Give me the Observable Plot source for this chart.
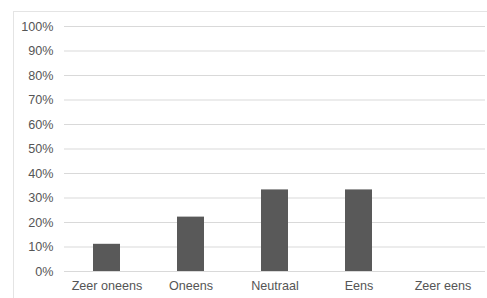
<!DOCTYPE html>
<html><head><meta charset="utf-8">
<script src="https://cdn.jsdelivr.net/npm/d3@7"></script>
<script src="https://cdn.jsdelivr.net/npm/@observablehq/plot@0.6"></script>
<style>
html,body{margin:0;padding:0;background:#fff;}
#wrap{position:relative;width:487px;height:298px;overflow:hidden;}
#border{position:absolute;left:13px;top:11px;width:490px;height:300px;border:1px solid #e4e4e4;box-sizing:border-box;}
#chart{position:absolute;left:0;top:0;}
</style></head>
<body>
<div id="wrap"><div id="border"></div><div id="chart"></div></div>
<script>
const categories = ["Zeer oneens", "Oneens", "Neutraal", "Eens", "Zeer eens"];
const values = [0.111, 0.222, 0.333, 0.333, 0];
const yTicks = [0, 0.1, 0.2, 0.3, 0.4, 0.5, 0.6, 0.7, 0.8, 0.9, 1.0];
const yTickLabels = ["0%", "10%", "20%", "30%", "40%", "50%", "60%", "70%", "80%", "90%", "100%"];

const data = categories.map((c, i) => ({category: c, value: values[i]}));

const chart = Plot.plot({
  width: 487,
  height: 298,
  marginLeft: 64,
  marginRight: 2,
  marginTop: 26,
  marginBottom: 27,
  style: {fontFamily: "'Liberation Sans', Arial, sans-serif", fontSize: "12.6px", color: "#555555", background: "transparent"},
  x: {domain: categories, paddingInner: 0.68, paddingOuter: 0.34, label: null, tickSize: 0, tickPadding: 10},
  y: {domain: [0, 1], ticks: yTicks, tickFormat: (d) => yTickLabels[yTicks.findIndex(t => Math.abs(t - d) < 1e-9)], label: null, tickSize: 0, tickPadding: 11},
  marks: [
    Plot.ruleY(yTicks, {stroke: "#d9d9d9", strokeWidth: 1}),
    Plot.barY(data, {x: "category", y: "value", fill: "#595959"})
  ]
});
document.getElementById("chart").appendChild(chart);
</script>
</body></html>
